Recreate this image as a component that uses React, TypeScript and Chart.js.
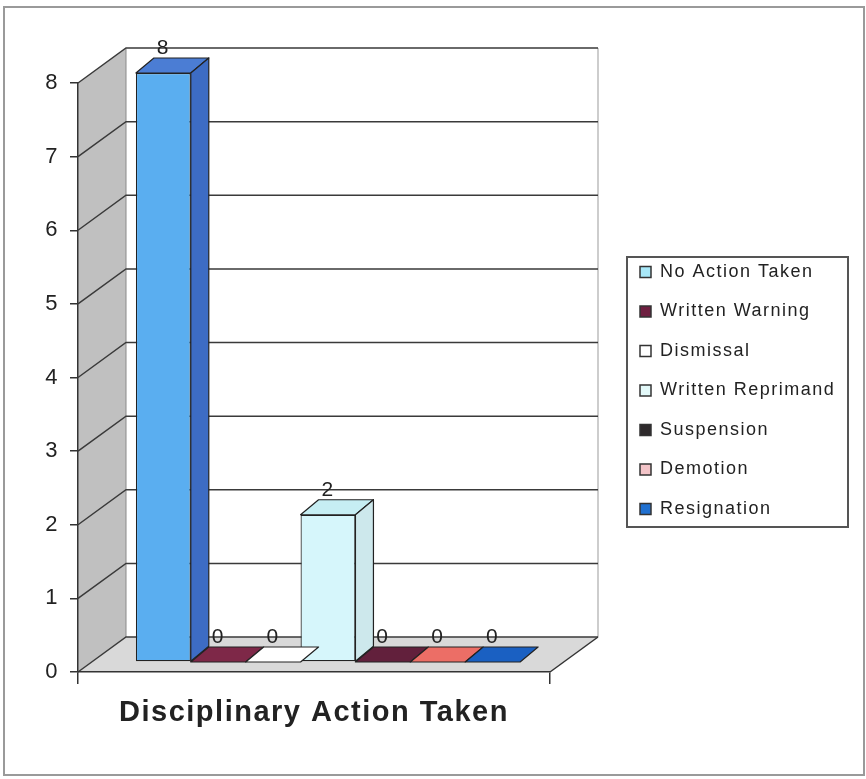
import React, { useEffect, useRef } from "react";
import { Chart, registerables } from "chart.js";

Chart.register(...registerables);

// ---------- data ----------
const categories = [""];
const seriesLabels = [
  "No Action Taken",
  "Written Warning",
  "Dismissal",
  "Written Reprimand",
  "Suspension",
  "Demotion",
  "Resignation",
];
const seriesValues = [8, 0, 0, 2, 0, 0, 0];
const yTickValues = [0, 1, 2, 3, 4, 5, 6, 7, 8];
const axisTitle = "Disciplinary Action Taken";

// ---------- styles ----------
const frontColors = ["#5aaef0", "#8a2c52", "#ffffff", "#d6f6fb", "#6a2342", "#f0726a", "#1d68cc"];
const topColors = ["#4b7dd4", "#7e2848", "#ffffff", "#c6eef3", "#62203c", "#ec6e66", "#1a60c2"];
const sideColors = ["#3d6cc4", "#5e1c36", "#f2f2f2", "#cde8ec", "#4a1830", "#c85a54", "#154f9e"];
const legendColors = ["#a8e8f8", "#6e1f40", "#ffffff", "#e2f8f8", "#2e2a2c", "#f3c4c8", "#2070d0"];

const FONT = "'Liberation Sans', Arial, sans-serif";
const wallDepth = { x: 48, y: -35 };
const barShift = { x: 14, y: -10 };
const barDepth = { x: 18, y: -15 };
const outerFrame = { left: 4, top: 7, right: 864, bottom: 775 };
const legendFrame = { left: 627, top: 257, right: 848, bottom: 527 };
const legendPos = { left: 618.5, top: 241.5 };

const threeD = {
  id: "threeD",
  afterLayout(chart: any) {
    const lg = chart.legend;
    if (!lg) return;
    const h = lg.height;
    const w = legendFrame.right + 40 - legendPos.left;
    lg.left = legendPos.left;
    lg.top = legendPos.top;
    lg.width = w;
    lg.right = lg.left + w;
    lg.bottom = lg.top + h;
  },
  beforeDraw(chart: any) {
    const ctx: CanvasRenderingContext2D = chart.ctx;
    const { left, right, top, bottom } = chart.chartArea;
    const ys = chart.scales.y;
    ctx.save();
    ctx.fillStyle = "#ffffff";
    ctx.fillRect(0, 0, chart.width, chart.height);
    // outer frame
    ctx.strokeStyle = "#9a9a9a";
    ctx.lineWidth = 2;
    ctx.strokeRect(outerFrame.left, outerFrame.top, outerFrame.right - outerFrame.left, outerFrame.bottom - outerFrame.top);

    const dx = wallDepth.x;
    const dy = wallDepth.y;
    // side wall
    ctx.beginPath();
    ctx.moveTo(left, top);
    ctx.lineTo(left + dx, top + dy);
    ctx.lineTo(left + dx, bottom + dy);
    ctx.lineTo(left, bottom);
    ctx.closePath();
    ctx.fillStyle = "#c0c0c0";
    ctx.fill();
    // back wall right edge
    ctx.strokeStyle = "#bdbdbd";
    ctx.lineWidth = 1.5;
    ctx.beginPath();
    ctx.moveTo(right + dx, top + dy);
    ctx.lineTo(right + dx, bottom + dy);
    ctx.stroke();
    // floor
    ctx.beginPath();
    ctx.moveTo(left, bottom);
    ctx.lineTo(right, bottom);
    ctx.lineTo(right + dx, bottom + dy);
    ctx.lineTo(left + dx, bottom + dy);
    ctx.closePath();
    ctx.fillStyle = "#d9d9d9";
    ctx.fill();
    ctx.strokeStyle = "#333333";
    ctx.lineWidth = 1.5;
    ctx.beginPath();
    ctx.moveTo(right, bottom);
    ctx.lineTo(right + dx, bottom + dy);
    ctx.stroke();
    // side wall inner back edge
    ctx.strokeStyle = "#8a8a8a";
    ctx.lineWidth = 1;
    ctx.beginPath();
    ctx.moveTo(left + dx, top + dy);
    ctx.lineTo(left + dx, bottom + dy);
    ctx.stroke();
    // gridlines
    ys.ticks.forEach((t: any) => {
      const py = ys.getPixelForValue(t.value);
      ctx.strokeStyle = "#3a3a3a";
      ctx.lineWidth = 1.5;
      ctx.beginPath();
      ctx.moveTo(left, py);
      ctx.lineTo(left + dx, py + dy);
      ctx.lineTo(right + dx, py + dy);
      ctx.stroke();
    });
    // legend frame
    ctx.strokeStyle = "#555555";
    ctx.lineWidth = 2;
    ctx.strokeRect(legendFrame.left, legendFrame.top, legendFrame.right - legendFrame.left, legendFrame.bottom - legendFrame.top);
    ctx.restore();
    (ctx as any).letterSpacing = "1.5px";
  },
  beforeDatasetsDraw(chart: any) {
    chart.ctx.save();
    chart.ctx.translate(barShift.x, barShift.y);
  },
  afterDatasetsDraw(chart: any) {
    const ctx: CanvasRenderingContext2D = chart.ctx;
    const bdx = barDepth.x;
    const bdy = barDepth.y;
    const labels: { x: number; y: number; text: string }[] = [];
    chart.data.datasets.forEach((ds: any, i: number) => {
      const meta = chart.getDatasetMeta(i);
      meta.data.forEach((el: any, j: number) => {
        const { x, y, base, width } = el.getProps(["x", "y", "base", "width"], true);
        const L = x - width / 2;
        const R = x + width / 2;
        ctx.save();
        ctx.strokeStyle = "#222222";
        ctx.lineWidth = 1.2;
        ctx.lineJoin = "round";
        // top face
        ctx.beginPath();
        ctx.moveTo(L, y);
        ctx.lineTo(R, y);
        ctx.lineTo(R + bdx, y + bdy);
        ctx.lineTo(L + bdx, y + bdy);
        ctx.closePath();
        ctx.fillStyle = topColors[i];
        ctx.fill();
        ctx.stroke();
        // side face
        if (base - y > 0.5) {
          ctx.beginPath();
          ctx.moveTo(R, y);
          ctx.lineTo(R + bdx, y + bdy);
          ctx.lineTo(R + bdx, base + bdy);
          ctx.lineTo(R, base);
          ctx.closePath();
          ctx.fillStyle = sideColors[i];
          ctx.fill();
          ctx.stroke();
        }
        ctx.restore();
        labels.push({ x, y: y + bdy + 1, text: String(ds.data[j]) });
      });
    });
    ctx.save();
    ctx.font = `21px ${FONT}`;
    ctx.fillStyle = "#222222";
    ctx.textAlign = "center";
    ctx.textBaseline = "bottom";
    labels.forEach((l) => ctx.fillText(l.text, l.x, l.y));
    ctx.restore();
    ctx.restore();
  },
};

export default function App() {
  const ref = useRef<HTMLCanvasElement | null>(null);
  useEffect(() => {
    if (!ref.current) return;
    const chart = new Chart(ref.current, {
      type: "bar",
      data: {
        labels: categories,
        datasets: seriesLabels.map((label, i) => ({
          label,
          data: [seriesValues[i]],
          backgroundColor: frontColors[i],
          borderColor: "#222222",
          borderWidth: 1.2,
          borderSkipped: false,
          barPercentage: 1,
          categoryPercentage: 0.814,
        })),
      },
      options: {
        animation: false,
        responsive: false,
        maintainAspectRatio: false,
        events: [],
        layout: { padding: { left: 0, top: 83, right: 316, bottom: 49 } },
        scales: {
          x: {
            type: "category",
            offset: true,
            afterFit: (s: any) => {
              s.height = 58;
            },
            grid: { display: true, drawOnChartArea: false, drawTicks: true, tickLength: 12, color: "#333333", lineWidth: 1.5, offset: true },
            border: { display: true, color: "#333333", width: 1.5 },
            ticks: { display: false },
            title: {
              display: true,
              text: axisTitle,
              color: "#222222",
              font: { family: FONT, size: 29, weight: "bold" },
              padding: { top: 0, bottom: 0 },
            },
          },
          y: {
            type: "linear",
            min: 0,
            max: 8,
            afterFit: (s: any) => {
              s.width = 78;
            },
            afterBuildTicks: (s: any) => {
              s.ticks = yTickValues.map((v) => ({ value: v }));
            },
            grid: { display: true, drawOnChartArea: false, drawTicks: true, tickLength: 8, color: "#333333", lineWidth: 1.5 },
            border: { display: true, color: "#333333", width: 1.5 },
            ticks: { color: "#222222", font: { family: FONT, size: 22 }, padding: 11 },
          },
        },
        plugins: {
          tooltip: { enabled: false },
          title: { display: false },
          legend: {
            display: true,
            position: "chartArea" as any,
            align: "start",
            labels: {
              boxWidth: 11,
              boxHeight: 11,
              padding: 21.5,
              color: "#222222",
              font: { family: FONT, size: 18 },
              generateLabels: () =>
                seriesLabels.map((text, i) => ({
                  text,
                  fillStyle: legendColors[i],
                  strokeStyle: "#333333",
                  lineWidth: 1.5,
                  hidden: false,
                  datasetIndex: i,
                  fontColor: "#222222",
                })),
            },
          },
        },
      },
      plugins: [threeD],
    });
    return () => chart.destroy();
  }, []);
  return (
    <div style={{ position: "absolute", left: 0, top: 0, width: 866, height: 779 }}>
      <canvas ref={ref} width={866} height={779} style={{ display: "block" }} />
    </div>
  );
}
